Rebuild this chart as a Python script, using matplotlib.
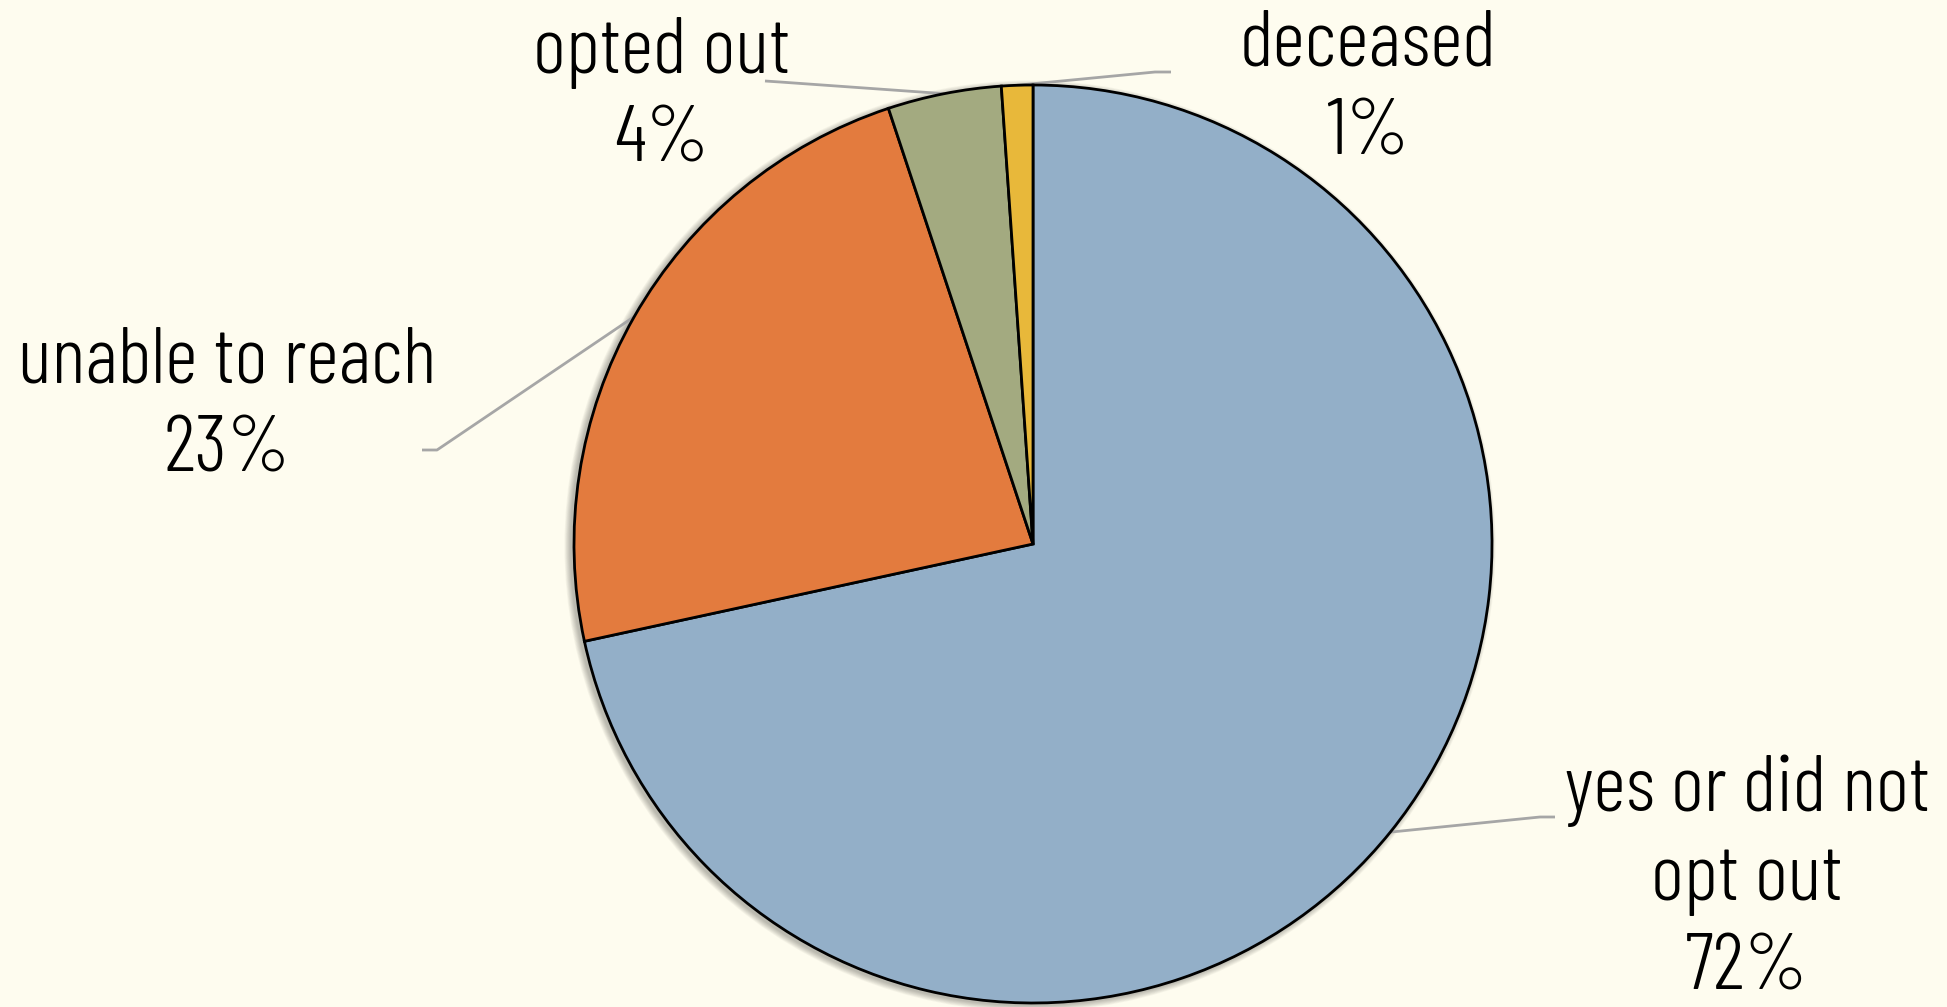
import numpy as np
import matplotlib
matplotlib.use("Agg")
import matplotlib.pyplot as plt

# slice data, clockwise from 12 o'clock
labels = ["yes or did not\nopt out", "unable to reach", "opted out", "deceased"]
shares = [71.6, 23.3, 4.0, 1.1]
shown_pct = ["72%", "23%", "4%", "1%"]
colors = ["#93AFC8", "#E37B3E", "#A3AA80", "#E8B83A"]

W, H = 1947, 1007
bg = "#FEFCEF"
plt.rcParams["font.family"] = ["Barlow Condensed", "DejaVu Sans"]

fig = plt.figure(figsize=(W / 100, H / 100), dpi=100, facecolor=bg)
ax = fig.add_axes([0, 0, 1, 1])
ax.set_facecolor(bg)

cx, cy, r = 1033, H - 544, 459

# soft shadow
for k in range(8):
    ax.add_patch(plt.Circle((cx - 3, cy - 2), r + 1 + k * 0.8, color="black",
                            alpha=0.035, lw=0, zorder=1))

wedges, _ = ax.pie(shares, colors=colors, startangle=90, counterclock=False,
                   center=(cx, cy), radius=r, frame=True,
                   wedgeprops=dict(edgecolor="black", linewidth=2))
for w in wedges:
    w.set_zorder(2)
ax.set_xlim(0, W)
ax.set_ylim(0, H)
ax.axis("off")

# label text positions (image px) and leader elbow points
text_pos = [(1747, 880), (227, 407), (662, 97), (1368, 90)]
elbows = [((1555, 817), (1540, 817)),
          ((422, 450), (437, 450)),
          ((765, 81), (780, 82)),
          ((1171, 72), (1155, 72))]

for w, lab, pct, (tx, ty), (e0, e1) in zip(wedges, labels, shown_pct, text_pos, elbows):
    mid = np.deg2rad((w.theta1 + w.theta2) / 2)
    px, py = cx + r * np.cos(mid), cy + r * np.sin(mid)
    ax.plot([e0[0], e1[0], px], [H - e0[1], H - e1[1], py],
            color="#A6A6A6", lw=2, zorder=1.5, solid_capstyle="butt")
    ax.text(tx, H - ty, lab + "\n" + pct, ha="center", va="center",
            fontsize=58, fontweight=300, linespacing=1.3, color="black")

fig.savefig("out.png", dpi=100, facecolor=bg)
